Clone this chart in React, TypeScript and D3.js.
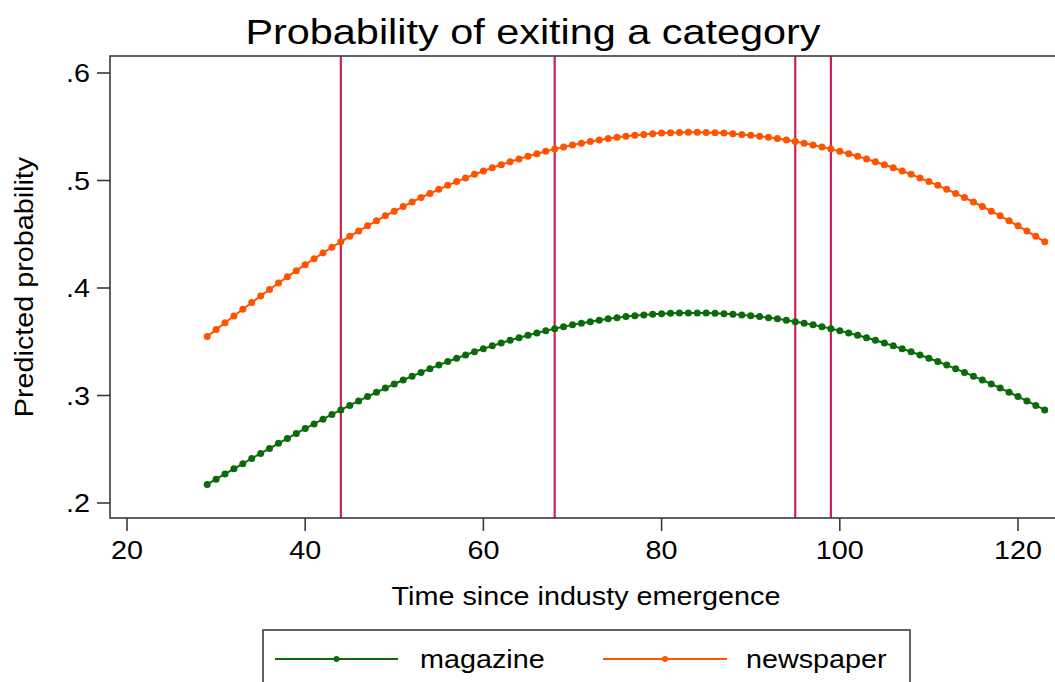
import * as d3 from 'd3';

const time = [
  29, 30, 31, 32, 33, 34, 35, 36, 37, 38, 39, 40, 41, 42, 43, 44, 45, 46, 47, 48,
  49, 50, 51, 52, 53, 54, 55, 56, 57, 58, 59, 60, 61, 62, 63, 64, 65, 66, 67, 68,
  69, 70, 71, 72, 73, 74, 75, 76, 77, 78, 79, 80, 81, 82, 83, 84, 85, 86, 87, 88,
  89, 90, 91, 92, 93, 94, 95, 96, 97, 98, 99, 100, 101, 102, 103, 104, 105, 106, 107, 108,
  109, 110, 111, 112, 113, 114, 115, 116, 117, 118, 119, 120, 121, 122, 123,
];

const magazine = [
  0.2173, 0.2222, 0.227, 0.2318, 0.2366, 0.2414, 0.2461, 0.2508, 0.2555, 0.2601,
  0.2647, 0.2692, 0.2736, 0.278, 0.2824, 0.2866, 0.2908, 0.295, 0.299, 0.303,
  0.3069, 0.3107, 0.3144, 0.318, 0.3215, 0.325, 0.3283, 0.3316, 0.3347, 0.3377,
  0.3407, 0.3435, 0.3462, 0.3489, 0.3514, 0.3538, 0.356, 0.3582, 0.3602, 0.3622,
  0.364, 0.3657, 0.3673, 0.3687, 0.3701, 0.3713, 0.3724, 0.3734, 0.3742, 0.375,
  0.3756, 0.3761, 0.3765, 0.3767, 0.3768, 0.3768, 0.3767, 0.3765, 0.3761, 0.3756,
  0.375, 0.3742, 0.3734, 0.3724, 0.3713, 0.3701, 0.3687, 0.3673, 0.3657, 0.364,
  0.3622, 0.3602, 0.3582, 0.356, 0.3538, 0.3514, 0.3489, 0.3462, 0.3435, 0.3407,
  0.3377, 0.3347, 0.3316, 0.3283, 0.325, 0.3215, 0.318, 0.3144, 0.3107, 0.3069,
  0.303, 0.299, 0.295, 0.2908, 0.2866,
];

const newspaper = [
  0.3548, 0.3613, 0.3677, 0.374, 0.3803, 0.3865, 0.3926, 0.3986, 0.4046, 0.4104,
  0.4161, 0.4217, 0.4272, 0.4326, 0.4379, 0.443, 0.4481, 0.453, 0.4578, 0.4625,
  0.4671, 0.4715, 0.4758, 0.48, 0.4841, 0.488, 0.4918, 0.4955, 0.499, 0.5024,
  0.5057, 0.5088, 0.5118, 0.5147, 0.5175, 0.5201, 0.5226, 0.5249, 0.5271, 0.5292,
  0.5312, 0.533, 0.5347, 0.5363, 0.5377, 0.539, 0.5402, 0.5412, 0.5421, 0.5429,
  0.5436, 0.5441, 0.5445, 0.5447, 0.5449, 0.5449, 0.5447, 0.5445, 0.5441, 0.5436,
  0.5429, 0.5421, 0.5412, 0.5402, 0.539, 0.5377, 0.5363, 0.5347, 0.533, 0.5312,
  0.5292, 0.5271, 0.5249, 0.5226, 0.5201, 0.5175, 0.5147, 0.5118, 0.5088, 0.5057,
  0.5024, 0.499, 0.4955, 0.4918, 0.488, 0.4841, 0.48, 0.4758, 0.4715, 0.4671,
  0.4625, 0.4578, 0.453, 0.4481, 0.443,
];

const refLines = [44, 68, 95, 99];
const xTicks = [20, 40, 60, 80, 100, 120];
const yTicks = [0.2, 0.3, 0.4, 0.5, 0.6];
const yTickLabels = ['.2', '.3', '.4', '.5', '.6'];

const seriesNames = ['magazine', 'newspaper'];
const seriesColors = ['#0b6b0b', '#ff5300'];

const W = 1055;
const H = 682;
const FONT = '"Liberation Sans", Arial, Helvetica, sans-serif';
const SX = 1.15; // the original text is wider than Arial

export default function App() {
  const plot = { left: 110, top: 56, right: 1062, bottom: 518 };

  const x = d3.scaleLinear().domain([20, 120]).range([127, 1018]);
  const y = d3.scaleLinear().domain([0.2, 0.6]).range([503, 73]);

  const line = d3
    .line<[number, number]>()
    .x(d => x(d[0]))
    .y(d => y(d[1]));

  const series = [magazine, newspaper].map(vals =>
    time.map((t, i) => [t, vals[i]] as [number, number])
  );

  const axisColor = '#3a3a3a';

  const txt = (
    tx: number,
    ty: number,
    s: string,
    size: number,
    anchor: 'start' | 'middle' | 'end' = 'middle',
    rot = 0
  ) => (
    <g transform={`translate(${tx},${ty}) rotate(${rot}) scale(${SX},1)`}>
      <text x={0} y={0} textAnchor={anchor} fontSize={size} fontFamily={FONT} fill="#000">
        {s}
      </text>
    </g>
  );

  // legend layout
  const legend = { left: 263, right: 910, top: 630, row: 659 };
  const legendItems = [
    { x1: 275, x2: 398, tx: 420 },
    { x1: 603, x2: 727, tx: 746 },
  ];

  return (
    <svg
      width={W}
      height={H}
      style={{ position: 'absolute', left: 0, top: 0, background: '#fff' }}
    >
      <rect x={0} y={0} width={W} height={H} fill="#fff" />

      {/* title */}
      {txt(533, 44, 'Probability of exiting a category', 36)}

      {/* reference lines */}
      {refLines.map(v => (
        <line
          key={v}
          x1={x(v)}
          x2={x(v)}
          y1={plot.top}
          y2={plot.bottom}
          stroke="#cf1f50"
          strokeWidth={2.2}
        />
      ))}

      {/* series */}
      {series.map((pts, si) => (
        <g key={seriesNames[si]}>
          <path d={line(pts) || ''} fill="none" stroke={seriesColors[si]} strokeWidth={2} />
          {pts.map(p => (
            <circle key={p[0]} cx={x(p[0])} cy={y(p[1])} r={3.5} fill={seriesColors[si]} />
          ))}
        </g>
      ))}

      {/* plot frame */}
      <rect
        x={plot.left}
        y={plot.top}
        width={plot.right - plot.left}
        height={plot.bottom - plot.top}
        fill="none"
        stroke={axisColor}
        strokeWidth={1.6}
      />

      {/* y axis */}
      {yTicks.map((v, i) => (
        <g key={v}>
          <line x1={plot.left - 13} x2={plot.left} y1={y(v)} y2={y(v)} stroke={axisColor} strokeWidth={1.6} />
          {txt(90, y(v) + 9, yTickLabels[i], 25, 'end')}
        </g>
      ))}
      {txt(33, (plot.top + plot.bottom) / 2, 'Predicted probability', 25, 'middle', -90)}

      {/* x axis */}
      {xTicks.map(v => (
        <g key={v}>
          <line x1={x(v)} x2={x(v)} y1={plot.bottom} y2={plot.bottom + 13} stroke={axisColor} strokeWidth={1.6} />
          {txt(x(v), 559, String(v), 25)}
        </g>
      ))}
      {txt((plot.left + plot.right) / 2, 605, 'Time since industy emergence', 25)}

      {/* legend */}
      <rect
        x={legend.left}
        y={legend.top}
        width={legend.right - legend.left}
        height={80}
        fill="#fff"
        stroke={axisColor}
        strokeWidth={1.6}
      />
      {legendItems.map((it, i) => (
        <g key={seriesNames[i]}>
          <line x1={it.x1} x2={it.x2} y1={legend.row} y2={legend.row} stroke={seriesColors[i]} strokeWidth={2} />
          <circle cx={(it.x1 + it.x2) / 2} cy={legend.row} r={3} fill={seriesColors[i]} />
          {txt(it.tx, legend.row + 9, seriesNames[i], 25, 'start')}
        </g>
      ))}
    </svg>
  );
}
